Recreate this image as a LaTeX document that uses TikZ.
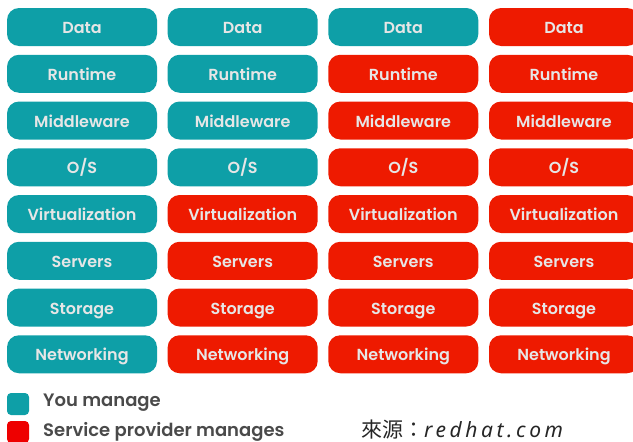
\documentclass[tikz,border=0pt]{standalone}
\usepackage{fontspec}
\setmainfont{Poppins}[BoldFont={Poppins SemiBold}]
\newfontfamily\cjk{Noto Sans CJK TC}
\newfontfamily\srcfont{Noto Sans}[LetterSpace=17]
\definecolor{teal1}{HTML}{0E9FA7}
\definecolor{red1}{HTML}{EE1A00}
\definecolor{redkey}{HTML}{EE0000}
\definecolor{boxtext}{HTML}{E6E6E6}
\definecolor{keytext}{HTML}{4A4A4A}
\begin{document}
\begin{tikzpicture}[x=1pt,y=-1pt,
  layer/.style={rounded corners=12pt, minimum width=150pt, minimum height=38pt,
    inner sep=0pt, text height=13.5pt, text depth=0.5pt,
    text=boxtext, font=\fontsize{16}{17}\selectfont\bfseries},
  mine/.style={layer, fill=teal1},
  theirs/.style={layer, fill=red1},
  keybox/.style={rounded corners=4pt, minimum width=22pt, minimum height=22pt, inner sep=0pt},
  keylabel/.style={anchor=west, text=keytext, font=\fontsize{18}{19}\selectfont\bfseries, inner sep=0pt}]
\useasboundingbox (0,0) rectangle (633,442);
% stack layers, top to bottom; the number is how many rows each column manages itself
\foreach \lbl [count=\r from 0] in {Data,Runtime,Middleware,O/S,Virtualization,Servers,Storage,Networking}{
  \foreach \own [count=\c from 0] in {8,4,1,0}{
    \pgfmathtruncatemacro{\ismine}{\r<\own ? 1 : 0}
    \ifnum\ismine=1
      \node[mine] (b-\r-\c) at ({82+160.67*\c},{27+46.75*\r}) {\lbl};
    \else
      \node[theirs] (b-\r-\c) at ({82+160.67*\c},{27+46.75*\r}) {\lbl};
    \fi
  }
}
% legend
\node[keybox, fill=teal1] (key-you) at (18,404) {};
\node[keybox, fill=redkey] (key-sp) at (18,432) {};
\node[keylabel] (lbl-you) at (43,403) {You manage};
\node[keylabel] (lbl-sp) at (43,432) {Service provider manages};
\node[anchor=base west, inner sep=0pt, text=black!85, font=\fontsize{21}{22}\selectfont] (src) at (361,437)
  {\cjk 來源：\srcfont\itshape redhat.com};
\end{tikzpicture}
\end{document}
